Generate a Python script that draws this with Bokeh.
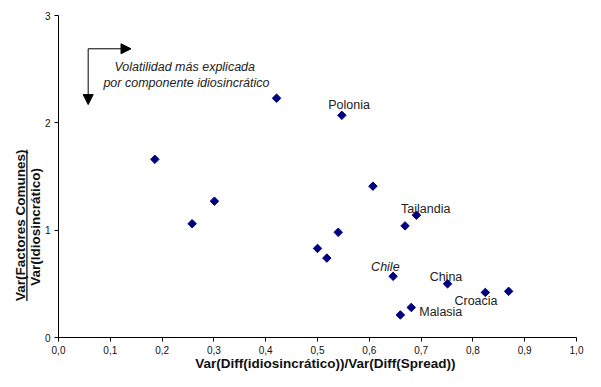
import math
from bokeh.plotting import figure
from bokeh.models import Range1d, FixedTicker, Label, Arrow, NormalHead, ColumnDataSource
from bokeh.core.properties import value
from bokeh.embed import file_html
from bokeh.resources import INLINE

# data
x_vals = [0.421, 0.186, 0.547, 0.607, 0.258, 0.301, 0.691, 0.669, 0.540, 0.500,
          0.518, 0.646, 0.751, 0.824, 0.869, 0.681, 0.660]
y_vals = [2.23, 1.66, 2.07, 1.41, 1.06, 1.27, 1.14, 1.04, 0.98, 0.83,
          0.74, 0.57, 0.50, 0.42, 0.43, 0.28, 0.21]

countries = ["Polonia", "Tailandia", "China", "Croacia", "Malasia"]
country_x = [0.561, 0.709, 0.748, 0.806, 0.738]
country_y = [2.17, 1.199, 0.565, 0.339, 0.241]
chile_label = ["Chile"]
chile_x = [0.631]
chile_y = [0.654]

x_ticks = [0.0, 0.1, 0.2, 0.3, 0.4, 0.5, 0.6, 0.7, 0.8, 0.9, 1.0]
x_tick_labels = ["0,0", "0,1", "0,2", "0,3", "0,4", "0,5", "0,6", "0,7", "0,8", "0,9", "1,0"]
y_ticks = [0, 1, 2, 3]
y_tick_labels = ["0", "1", "2", "3"]

x_title = ["Var(Diff(idiosincrático))/Var(Diff(Spread))"]
y_title_top = ["Var(Factores Comunes)"]
y_title_bottom = ["Var(Idiosincrático)"]
note_lines = ["Volatilidad  más explicada", "por componente idiosincrático"]

# annotation / layout geometry (data units)
arrow_corner = (0.0573, 2.69)
arrow_right_tip = 0.140
arrow_down_tip = 2.17
note_x = 0.247
note_y = [2.524, 2.375]
x_title_pos = (0.515, -0.31)
y_title_top_pos = (-0.0734, 1.045)
y_title_bottom_pos = (-0.0444, 1.03)
underline_x = -0.0610
underline_y = (0.34, 1.75)

FONT = "Liberation Sans"
W, H = 585, 371
X0_PX, X_SCALE = 58, 518.0
Y0_PX, Y_SCALE = 337, 107.33

p = figure(width=W, height=H, output_backend="svg", toolbar_location=None,
           x_range=Range1d(-X0_PX / X_SCALE, (W - X0_PX) / X_SCALE),
           y_range=Range1d(-(H - Y0_PX) / Y_SCALE, Y0_PX / Y_SCALE),
           min_border_left=0, min_border_right=0, min_border_top=0, min_border_bottom=0)
p.title = None
p.outline_line_color = None
p.xgrid.visible = False
p.ygrid.visible = False
p.background_fill_color = "white"
p.border_fill_color = "white"

for ax in (p.xaxis[0], p.yaxis[0]):
    ax.fixed_location = 0
    ax.axis_line_color = "black"
    ax.major_tick_line_color = "black"
    ax.minor_tick_line_color = None
    ax.major_tick_in = 0
    ax.major_tick_out = 4
    ax.major_label_text_font = FONT
    ax.major_label_text_font_size = "10px"
    ax.major_label_text_color = "#111111"
    ax.major_label_standoff = 4

p.xaxis[0].bounds = (0, 1.0)
p.yaxis[0].bounds = (0, 3)
p.xaxis[0].ticker = FixedTicker(ticks=x_ticks)
p.xaxis[0].major_label_overrides = {t: l for t, l in zip(x_ticks, x_tick_labels)}
p.yaxis[0].ticker = FixedTicker(ticks=y_ticks)
p.yaxis[0].major_label_overrides = {t: l for t, l in zip(y_ticks, y_tick_labels)}

p.scatter(x_vals, y_vals, marker="square", size=6, angle=math.pi / 4,
          fill_color="#000080", line_color="#000080")

src = ColumnDataSource(dict(x=country_x, y=country_y, t=countries))
p.text(x="x", y="y", text="t", source=src, text_font=value(FONT), text_font_size="12.5px",
       text_align="center", text_baseline="middle", text_color="#222222")
src2 = ColumnDataSource(dict(x=chile_x, y=chile_y, t=chile_label))
p.text(x="x", y="y", text="t", source=src2, text_font=value(FONT), text_font_size="12.5px",
       text_font_style="italic", text_align="center", text_baseline="middle", text_color="#222222")

for line, yy in zip(note_lines, note_y):
    p.add_layout(Label(x=note_x, y=yy, text=line, text_font=FONT, text_font_size="12.5px",
                       text_font_style="italic", text_align="center", text_baseline="middle",
                       text_color="#222222"))

p.add_layout(Arrow(x_start=arrow_corner[0], y_start=arrow_corner[1], x_end=arrow_right_tip,
                   y_end=arrow_corner[1], line_color="black", line_width=1,
                   end=NormalHead(size=10, fill_color="black", line_color="black")))
p.add_layout(Arrow(x_start=arrow_corner[0], y_start=arrow_corner[1], x_end=arrow_corner[0],
                   y_end=arrow_down_tip, line_color="black", line_width=1,
                   end=NormalHead(size=10, fill_color="black", line_color="black")))

# axis titles
p.text(x=[x_title_pos[0]], y=[x_title_pos[1]], text=x_title, text_font=value(FONT),
       text_font_size="13.5px", text_font_style="bold", text_align="center",
       text_baseline="bottom", text_color="#111111")
p.text(x=[y_title_top_pos[0]], y=[y_title_top_pos[1]], text=y_title_top, text_font=value(FONT),
       text_font_size="13.5px", text_font_style="bold", text_align="center",
       text_baseline="middle", angle=math.pi / 2, text_color="#111111")
p.text(x=[y_title_bottom_pos[0]], y=[y_title_bottom_pos[1]], text=y_title_bottom,
       text_font=value(FONT), text_font_size="13.5px", text_font_style="bold",
       text_align="center", text_baseline="middle", angle=math.pi / 2, text_color="#111111")
p.segment(x0=[underline_x], y0=[underline_y[0]], x1=[underline_x], y1=[underline_y[1]],
          line_color="#111111", line_width=1.3)

open("out.html", "w").write(file_html(p, INLINE))
